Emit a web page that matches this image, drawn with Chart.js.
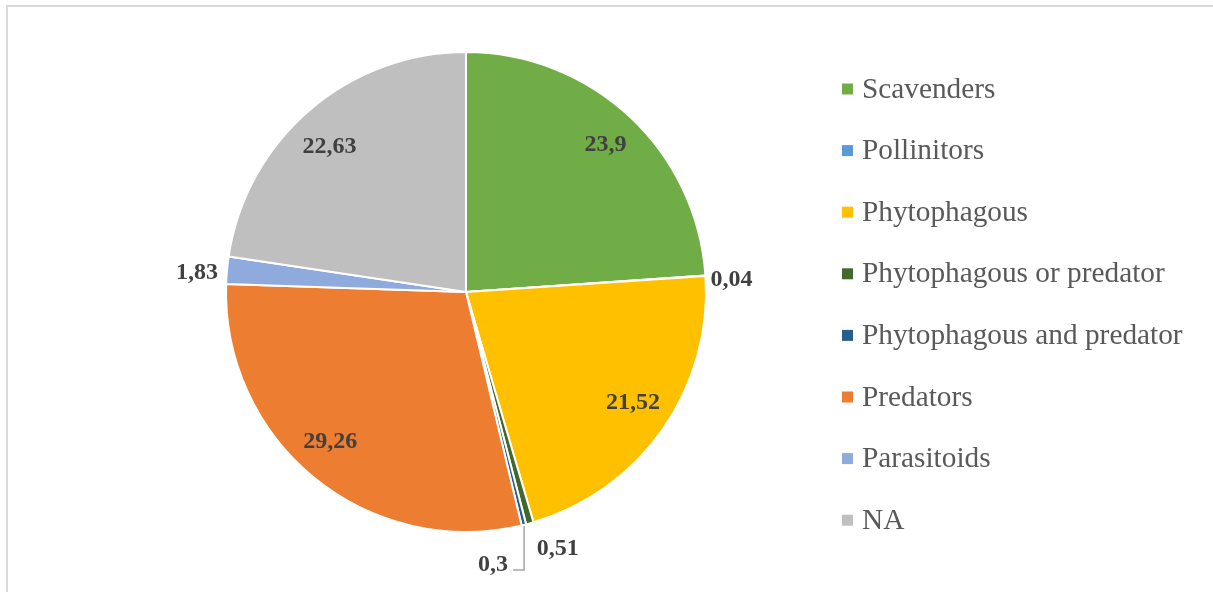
<!DOCTYPE html>
<html>
<head>
<meta charset="utf-8">
<script src="https://cdn.jsdelivr.net/npm/chart.js@4/dist/chart.umd.min.js"></script>
<style>
  html, body { margin: 0; padding: 0; background: #fff; overflow: hidden; }
  #wrap { position: relative; width: 1213px; height: 592px; }
  #frame { position: absolute; left: 6px; top: 5px; width: 1300px; height: 700px; border: 2px solid #d9d9d9; box-sizing: border-box; }
  canvas { position: absolute; left: 0; top: 0; }
</style>
</head>
<body>
<div id="wrap">
  <div id="frame"></div>
  <canvas id="chart" width="1213" height="592"></canvas>
</div>
<script>
const categories = ['Scavenders', 'Pollinitors', 'Phytophagous', 'Phytophagous or predator',
  'Phytophagous and predator', 'Predators', 'Parasitoids', 'NA'];
const shares = [23.9, 0.04, 21.52, 0.51, 0.3, 29.26, 1.83, 22.63];
const colors = ['#70AD47', '#5B9BD5', '#FFC000', '#43682B', '#255E91', '#ED7D31', '#8FAADC', '#BFBFBF'];

// where each value label goes: inside at a radius, outside with alignment, or with a leader line
const labelStyle = [
  { r: 200, dx: 3, dy: -1 },
  { r: 245, align: 'left', dy: 4 },
  { r: 200, dx: 3, dy: -4 },
  { r: 266, align: 'left' },
  { leader: true },
  { r: 202, dx: -8, dy: -7 },
  { r: 249, align: 'right', dy: 3 },
  { r: 200, dx: -6, dy: 6 }
];

const fmt = v => String(v).replace('.', ',');

const valueLabels = {
  id: 'valueLabels',
  afterDatasetsDraw(chart) {
    const ctx = chart.ctx;
    const arcs = chart.getDatasetMeta(0).data;
    ctx.save();
    ctx.font = 'bold 24px "Liberation Serif", "Times New Roman", serif';
    ctx.fillStyle = '#404040';
    ctx.textBaseline = 'middle';
    arcs.forEach((arc, i) => {
      const { x, y, startAngle, endAngle, outerRadius } = arc.getProps(['x', 'y', 'startAngle', 'endAngle', 'outerRadius'], true);
      const mid = (startAngle + endAngle) / 2;
      const st = labelStyle[i];
      const text = fmt(shares[i]);
      if (st.leader) {
        const ex = x + Math.cos(mid) * (outerRadius + 1);
        const ey = y + Math.sin(mid) * (outerRadius + 1);
        ctx.strokeStyle = '#a6a6a6';
        ctx.lineWidth = 1.5;
        ctx.beginPath();
        ctx.moveTo(ex, ey);
        ctx.lineTo(ex, y + 278);
        ctx.lineTo(ex - 11, y + 278);
        ctx.stroke();
        ctx.textAlign = 'right';
        ctx.fillText(text, ex - 16, y + 273);
        return;
      }
      const lx = x + Math.cos(mid) * st.r + (st.dx || 0);
      const ly = y + Math.sin(mid) * st.r + (st.dy || 0);
      ctx.textAlign = st.align || 'center';
      ctx.fillText(text, lx, ly);
    });
    ctx.restore();
  }
};

const sideLegend = {
  id: 'sideLegend',
  afterDraw(chart) {
    const ctx = chart.ctx;
    const labels = chart.data.labels;
    const bg = chart.data.datasets[0].backgroundColor;
    ctx.save();
    ctx.font = '29.3px "Liberation Serif", "Times New Roman", serif';
    ctx.textBaseline = 'middle';
    ctx.textAlign = 'left';
    labels.forEach((lab, i) => {
      const cy = 89 + i * 61.6;
      ctx.fillStyle = bg[i];
      ctx.fillRect(842, cy - 5.5, 11, 11);
      ctx.fillStyle = '#595959';
      ctx.fillText(lab, 862, cy + 1);
    });
    ctx.restore();
  }
};

new Chart(document.getElementById('chart'), {
  type: 'pie',
  data: {
    labels: categories,
    datasets: [{
      data: shares,
      backgroundColor: colors,
      borderColor: '#ffffff',
      borderWidth: 2
    }]
  },
  options: {
    responsive: false,
    animation: false,
    radius: 240,
    layout: { padding: { left: 200, right: 481, top: 16, bottom: 24 } },
    plugins: {
      legend: { display: false },
      tooltip: { enabled: false }
    }
  },
  plugins: [valueLabels, sideLegend]
});
</script>
</body>
</html>
